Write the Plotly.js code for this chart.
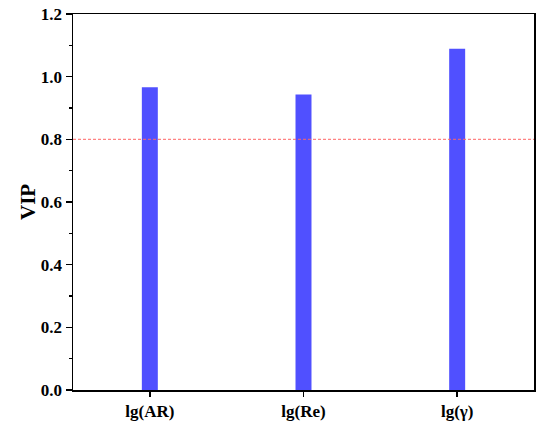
<!DOCTYPE html>
<html>
<head>
<meta charset="utf-8">
<script src="https://cdn.plot.ly/plotly-3.0.1.min.js"></script>
<style>html,body{margin:0;padding:0;background:#fff;}#chart{width:550px;height:433px;}</style>
</head>
<body>
<div id="chart"></div>
<script>
const categories = ['lg(AR)', 'lg(Re)', 'lg(γ)'];
const vipValues = [0.966, 0.943, 1.089];
const threshold = 0.8;
const yTicks = [0, 0.2, 0.4, 0.6, 0.8, 1.0, 1.2];
const yTickLabels = ['0.0', '0.2', '0.4', '0.6', '0.8', '1.0', '1.2'];
const yTitle = 'VIP';

const font = {family: 'Liberation Serif, Times New Roman, serif', color: '#000'};

const data = [{
  type: 'bar',
  x: [0, 1, 2],
  y: vipValues,
  width: 0.104,
  marker: {color: 'rgb(80,80,255)', line: {width: 0}},
  hoverinfo: 'skip'
}];

const layout = {
  width: 550, height: 433,
  margin: {l: 73, r: 16, t: 14, b: 43},
  paper_bgcolor: '#fff', plot_bgcolor: '#fff',
  showlegend: false,
  font: font,
  xaxis: {
    range: [-0.5, 2.5],
    tickmode: 'array',
    tickvals: [0, 1, 2],
    ticktext: categories,
    ticks: 'outside', ticklen: 5, tickwidth: 1.5, tickcolor: '#000',
    showline: true, mirror: true, linecolor: '#000', linewidth: 1.5,
    showgrid: false, zeroline: false,
    tickfont: {family: font.family, size: 17, weight: 'bold', color: '#000'}
  },
  yaxis: {
    range: [0, 1.2],
    tickmode: 'array',
    tickvals: yTicks,
    ticktext: yTickLabels,
    ticks: 'outside', ticklen: 6, tickwidth: 1.5, tickcolor: '#000',
    minor: {ticks: 'outside', ticklen: 3, tickwidth: 1.2, tickcolor: '#000', dtick: 0.1, tick0: 0, showgrid: false},
    showline: true, mirror: true, linecolor: '#000', linewidth: 1.5,
    showgrid: false, zeroline: false,
    tickfont: {family: font.family, size: 17, weight: 'bold', color: '#000'}
  },
  annotations: [{
    text: yTitle, xref: 'paper', yref: 'paper', x: -0.0976, y: 0.5,
    xanchor: 'center', yanchor: 'middle', textangle: -90, showarrow: false,
    font: {family: font.family, size: 21, weight: 'bold', color: '#000'}
  }],
  shapes: [{
    type: 'line', xref: 'paper', yref: 'y',
    x0: 0, x1: 1, y0: threshold, y1: threshold,
    line: {color: 'rgba(255,100,100,0.8)', width: 1.3, dash: '3px,2px'}
  }]
};

Plotly.newPlot('chart', data, layout, {displayModeBar: false, staticPlot: true});
</script>
</body>
</html>
